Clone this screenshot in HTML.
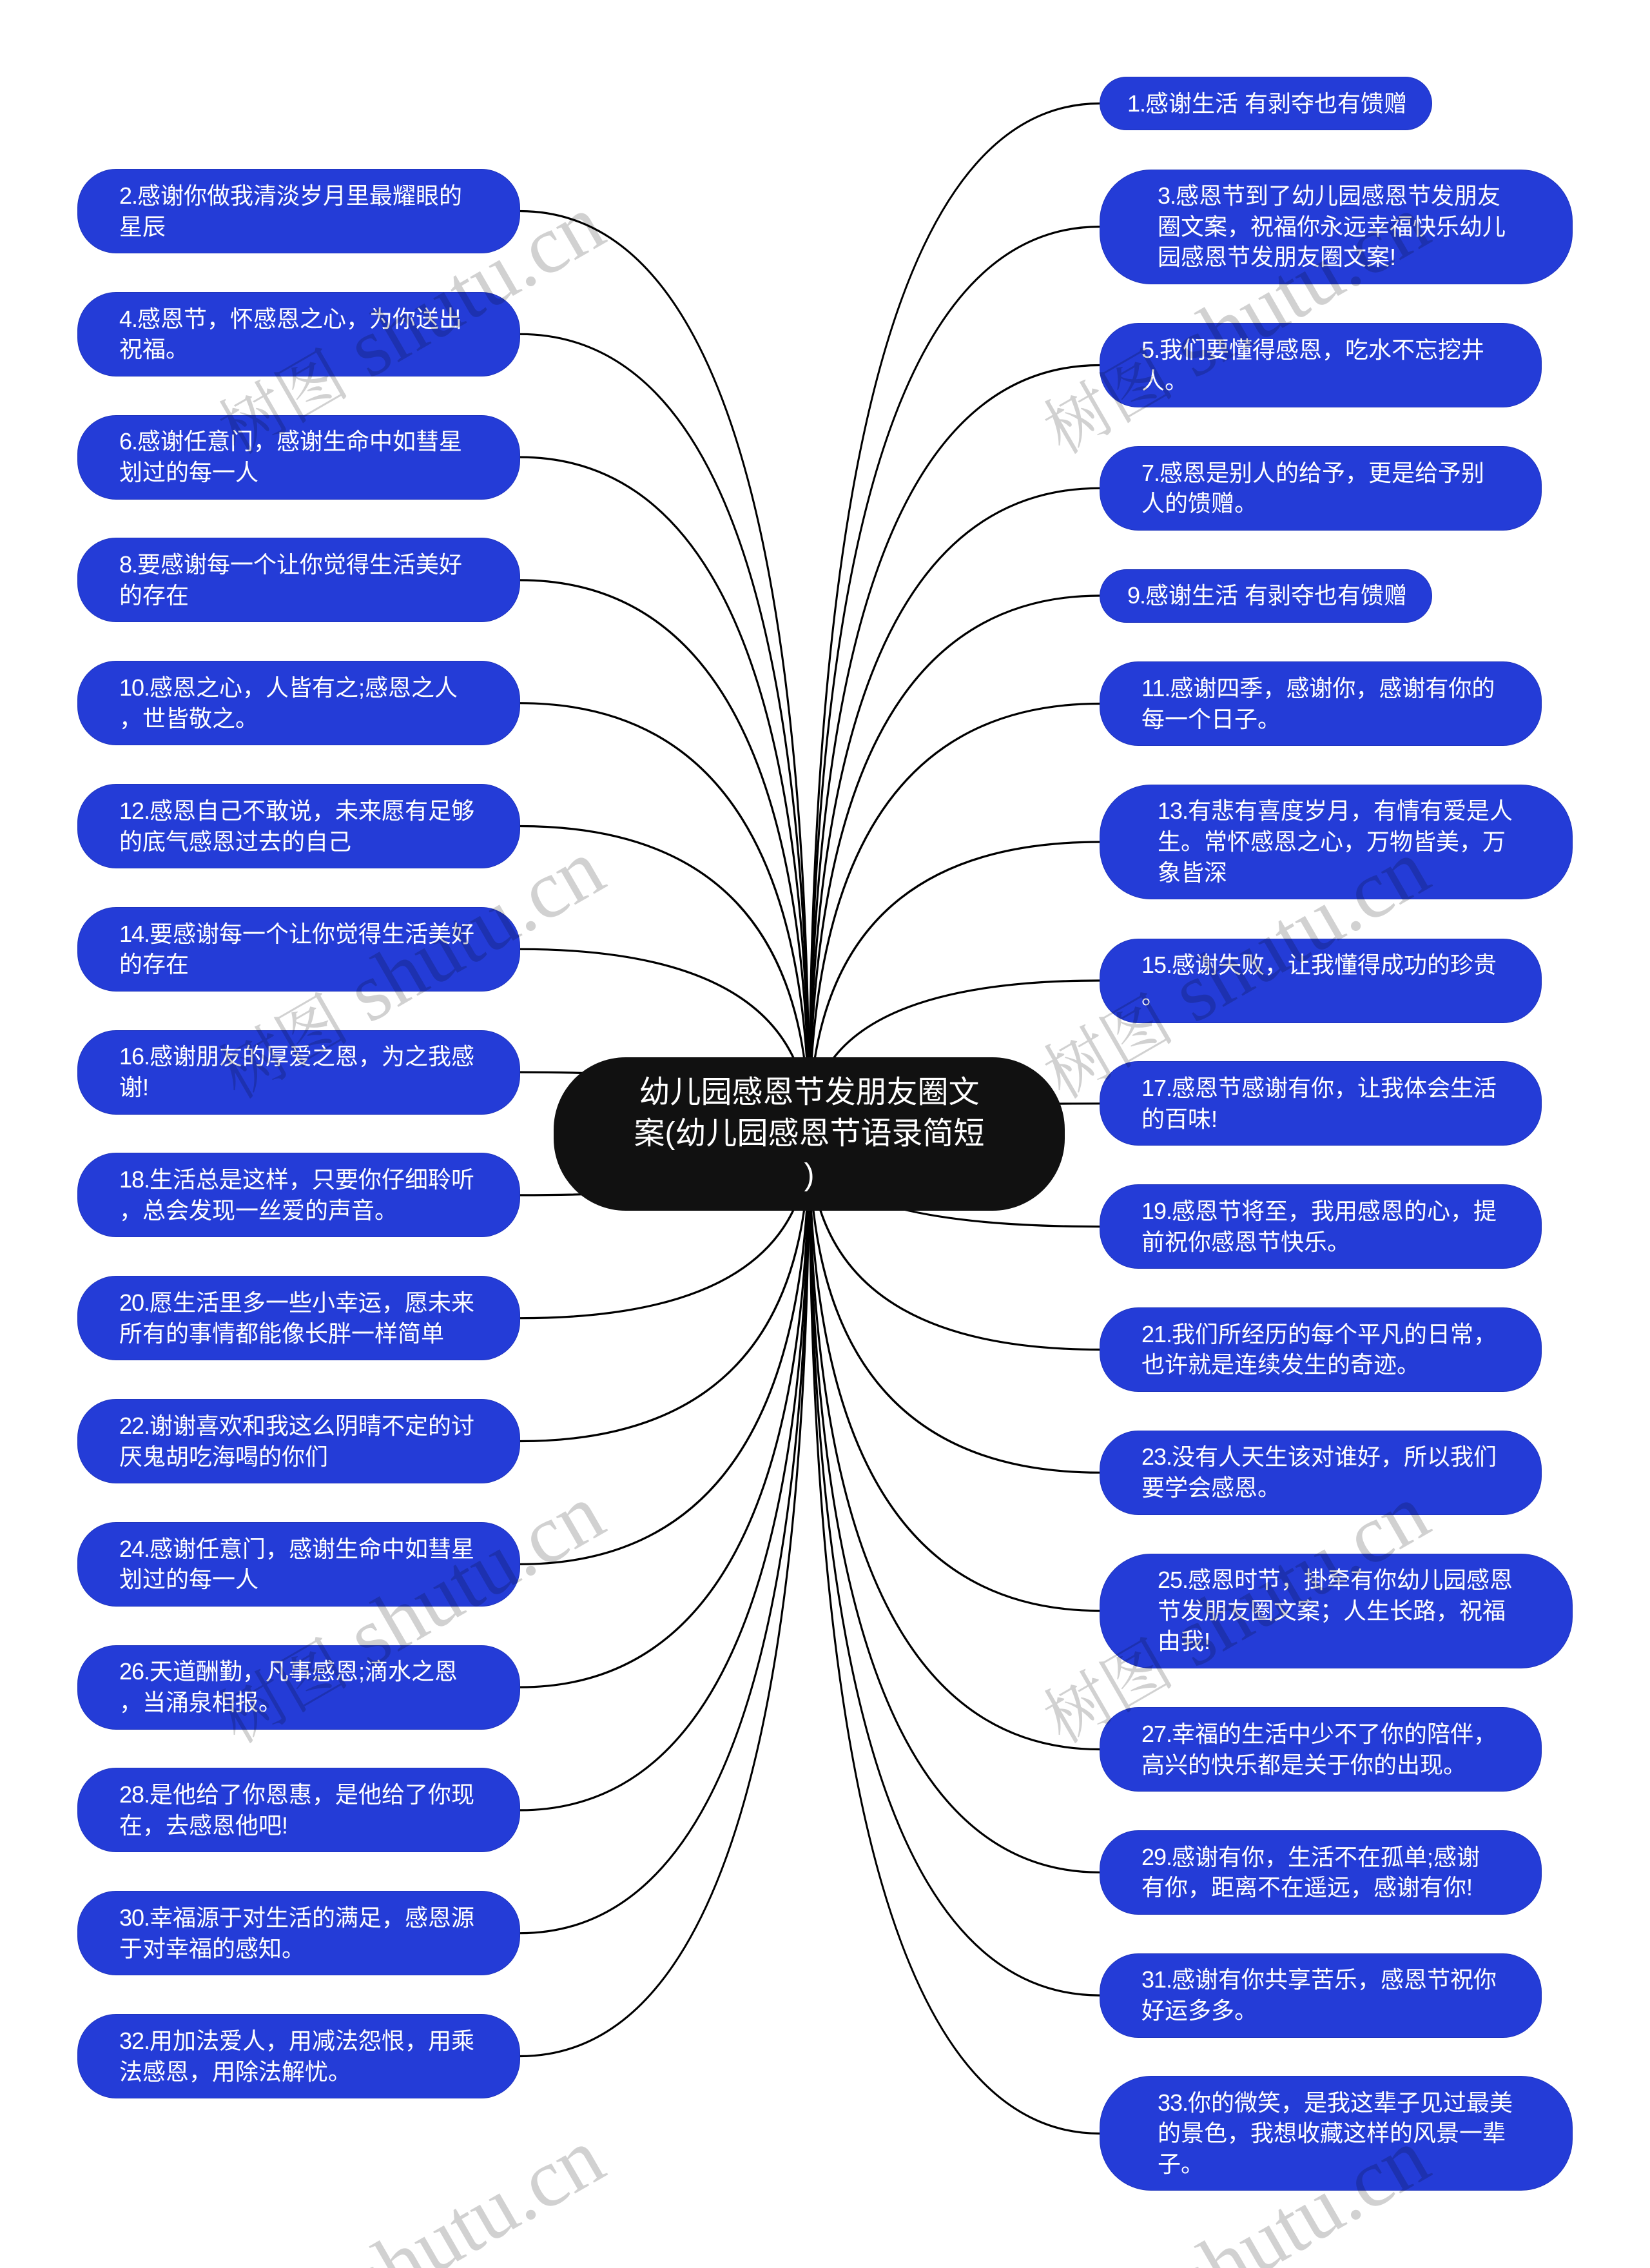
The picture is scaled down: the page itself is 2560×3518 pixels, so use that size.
<!DOCTYPE html>
<html lang="zh-CN">
<head>
<meta charset="utf-8">
<title>幼儿园感恩节发朋友圈文案</title>
<style>
html,body{margin:0;padding:0;background:#fff;width:2560px;height:3518px;overflow:hidden;}
#c{position:relative;width:2560px;height:3518px;overflow:hidden;background:#fff;font-family:"Liberation Sans","Noto Sans CJK SC",sans-serif;color:#fff;}
svg{position:absolute;left:0;top:0;overflow:hidden;}
.n{position:absolute;box-sizing:border-box;background:#243cd7;border:1px solid #1f34bd;font-size:36px;line-height:47.8px;white-space:nowrap;display:flex;align-items:center;}
.n i{font-style:normal;letter-spacing:-1px;}
.l{left:120px;width:687px;height:131px;border-radius:60px;padding-left:64px;}
.r{left:1706px;}
.s{width:516px;height:83px;border-radius:41.5px;padding-left:42px;}
.m{width:686px;height:131px;border-radius:60px;padding-left:64px;}
.t{width:734px;height:178px;border-radius:80px;padding-left:89px;}
#root{position:absolute;left:859px;top:1640px;width:793px;height:238px;border-radius:112px;background:#111;font-size:48px;line-height:64px;text-align:center;white-space:nowrap;display:flex;align-items:center;justify-content:center;}
</style>
</head>
<body>
<div id="c">
<svg width="2560" height="3518" viewBox="0 0 2560 3518" fill="none" stroke="#000" stroke-width="3.2">
<path d="M807 327.5Q1255.5 327.5 1255.5 1759"/>
<path d="M807 518.3Q1255.5 518.3 1255.5 1759"/>
<path d="M807 709.1Q1255.5 709.1 1255.5 1759"/>
<path d="M807 899.9Q1255.5 899.9 1255.5 1759"/>
<path d="M807 1090.7Q1255.5 1090.7 1255.5 1759"/>
<path d="M807 1281.5Q1255.5 1281.5 1255.5 1759"/>
<path d="M807 1472.3Q1255.5 1472.3 1255.5 1759"/>
<path d="M807 1663.1Q1255.5 1663.1 1255.5 1759"/>
<path d="M807 1853.9Q1255.5 1853.9 1255.5 1759"/>
<path d="M807 2044.7Q1255.5 2044.7 1255.5 1759"/>
<path d="M807 2235.5Q1255.5 2235.5 1255.5 1759"/>
<path d="M807 2426.3Q1255.5 2426.3 1255.5 1759"/>
<path d="M807 2617.1Q1255.5 2617.1 1255.5 1759"/>
<path d="M807 2807.9Q1255.5 2807.9 1255.5 1759"/>
<path d="M807 2998.7Q1255.5 2998.7 1255.5 1759"/>
<path d="M807 3189.5Q1255.5 3189.5 1255.5 1759"/>
<path d="M1706 160.5Q1255.5 160.5 1255.5 1759"/>
<path d="M1706 351.6Q1255.5 351.6 1255.5 1759"/>
<path d="M1706 566.5Q1255.5 566.5 1255.5 1759"/>
<path d="M1706 757.3Q1255.5 757.3 1255.5 1759"/>
<path d="M1706 924Q1255.5 924 1255.5 1759"/>
<path d="M1706 1091.5Q1255.5 1091.5 1255.5 1759"/>
<path d="M1706 1306Q1255.5 1306 1255.5 1759"/>
<path d="M1706 1521Q1255.5 1521 1255.5 1759"/>
<path d="M1706 1711.8Q1255.5 1711.8 1255.5 1759"/>
<path d="M1706 1902.6Q1255.5 1902.6 1255.5 1759"/>
<path d="M1706 2093.4Q1255.5 2093.4 1255.5 1759"/>
<path d="M1706 2284.2Q1255.5 2284.2 1255.5 1759"/>
<path d="M1706 2498.5Q1255.5 2498.5 1255.5 1759"/>
<path d="M1706 2713.5Q1255.5 2713.5 1255.5 1759"/>
<path d="M1706 2904.3Q1255.5 2904.3 1255.5 1759"/>
<path d="M1706 3095.1Q1255.5 3095.1 1255.5 1759"/>
<path d="M1706 3309.4Q1255.5 3309.4 1255.5 1759"/>
</svg>

<div id="root"><div>幼儿园感恩节发朋友圈文<br>案(幼儿园感恩节语录简短<br>)</div></div>

<div class="n l" style="top:262px"><div><i>2.</i>感谢你做我清淡岁月里最耀眼的<br>星辰</div></div>
<div class="n l" style="top:452.8px"><div><i>4.</i>感恩节，怀感恩之心，为你送出<br>祝福。</div></div>
<div class="n l" style="top:643.6px"><div><i>6.</i>感谢任意门，感谢生命中如彗星<br>划过的每一人</div></div>
<div class="n l" style="top:834.4px"><div><i>8.</i>要感谢每一个让你觉得生活美好<br>的存在</div></div>
<div class="n l" style="top:1025.2px"><div><i>10.</i>感恩之心，人皆有之;感恩之人<br>，世皆敬之。</div></div>
<div class="n l" style="top:1216px"><div><i>12.</i>感恩自己不敢说，未来愿有足够<br>的底气感恩过去的自己</div></div>
<div class="n l" style="top:1406.8px"><div><i>14.</i>要感谢每一个让你觉得生活美好<br>的存在</div></div>
<div class="n l" style="top:1597.6px"><div><i>16.</i>感谢朋友的厚爱之恩，为之我感<br>谢!</div></div>
<div class="n l" style="top:1788.4px"><div><i>18.</i>生活总是这样，只要你仔细聆听<br>，总会发现一丝爱的声音。</div></div>
<div class="n l" style="top:1979.2px"><div><i>20.</i>愿生活里多一些小幸运，愿未来<br>所有的事情都能像长胖一样简单</div></div>
<div class="n l" style="top:2170px"><div><i>22.</i>谢谢喜欢和我这么阴晴不定的讨<br>厌鬼胡吃海喝的你们</div></div>
<div class="n l" style="top:2360.8px"><div><i>24.</i>感谢任意门，感谢生命中如彗星<br>划过的每一人</div></div>
<div class="n l" style="top:2551.6px"><div><i>26.</i>天道酬勤，凡事感恩;滴水之恩<br>，当涌泉相报。</div></div>
<div class="n l" style="top:2742.4px"><div><i>28.</i>是他给了你恩惠，是他给了你现<br>在，去感恩他吧!</div></div>
<div class="n l" style="top:2933.2px"><div><i>30.</i>幸福源于对生活的满足，感恩源<br>于对幸福的感知。</div></div>
<div class="n l" style="top:3124px"><div><i>32.</i>用加法爱人，用减法怨恨，用乘<br>法感恩，用除法解忧。</div></div>

<div class="n r s" style="top:119px"><div><i>1.</i>感谢生活 有剥夺也有馈赠</div></div>
<div class="n r t" style="top:262.6px"><div><i>3.</i>感恩节到了幼儿园感恩节发朋友<br>圈文案，祝福你永远幸福快乐幼儿<br>园感恩节发朋友圈文案!</div></div>
<div class="n r m" style="top:501px"><div><i>5.</i>我们要懂得感恩，吃水不忘挖井<br>人。</div></div>
<div class="n r m" style="top:691.8px"><div><i>7.</i>感恩是别人的给予，更是给予别<br>人的馈赠。</div></div>
<div class="n r s" style="top:882.5px"><div><i>9.</i>感谢生活 有剥夺也有馈赠</div></div>
<div class="n r m" style="top:1026px"><div><i>11.</i>感谢四季，感谢你，感谢有你的<br>每一个日子。</div></div>
<div class="n r t" style="top:1217px"><div><i>13.</i>有悲有喜度岁月，有情有爱是人<br>生。常怀感恩之心，万物皆美，万<br>象皆深</div></div>
<div class="n r m" style="top:1455.5px"><div><i>15.</i>感谢失败，让我懂得成功的珍贵<br>。</div></div>
<div class="n r m" style="top:1646.3px"><div><i>17.</i>感恩节感谢有你，让我体会生活<br>的百味!</div></div>
<div class="n r m" style="top:1837.1px"><div><i>19.</i>感恩节将至，我用感恩的心，提<br>前祝你感恩节快乐。</div></div>
<div class="n r m" style="top:2027.9px"><div><i>21.</i>我们所经历的每个平凡的日常，<br>也许就是连续发生的奇迹。</div></div>
<div class="n r m" style="top:2218.7px"><div><i>23.</i>没有人天生该对谁好，所以我们<br>要学会感恩。</div></div>
<div class="n r t" style="top:2409.5px"><div><i>25.</i>感恩时节，掛牵有你幼儿园感恩<br>节发朋友圈文案；人生长路，祝福<br>由我!</div></div>
<div class="n r m" style="top:2648px"><div><i>27.</i>幸福的生活中少不了你的陪伴，<br>高兴的快乐都是关于你的出现。</div></div>
<div class="n r m" style="top:2838.8px"><div><i>29.</i>感谢有你，生活不在孤单;感谢<br>有你，距离不在遥远，感谢有你!</div></div>
<div class="n r m" style="top:3029.6px"><div><i>31.</i>感谢有你共享苦乐，感恩节祝你<br>好运多多。</div></div>
<div class="n r t" style="top:3220.4px"><div><i>33.</i>你的微笑，是我这辈子见过最美<br>的景色，我想收藏这样的风景一辈<br>子。</div></div>

<svg width="2560" height="3518" viewBox="0 0 2560 3518" style="pointer-events:none" fill="rgba(0,0,0,.18)" font-family="'Liberation Serif','Noto Serif CJK SC',serif" font-size="128" text-anchor="end">
<text x="945" y="373" transform="rotate(-30 945 373)"><tspan font-size="102">树图</tspan> shutu.cn</text>
<text x="2225" y="373" transform="rotate(-30 2225 373)"><tspan font-size="102">树图</tspan> shutu.cn</text>
<text x="945" y="1373" transform="rotate(-30 945 1373)"><tspan font-size="102">树图</tspan> shutu.cn</text>
<text x="2225" y="1373" transform="rotate(-30 2225 1373)"><tspan font-size="102">树图</tspan> shutu.cn</text>
<text x="945" y="2373" transform="rotate(-30 945 2373)"><tspan font-size="102">树图</tspan> shutu.cn</text>
<text x="2225" y="2373" transform="rotate(-30 2225 2373)"><tspan font-size="102">树图</tspan> shutu.cn</text>
<text x="945" y="3372" transform="rotate(-30 945 3372)"><tspan font-size="102">树图</tspan> shutu.cn</text>
<text x="2225" y="3372" transform="rotate(-30 2225 3372)"><tspan font-size="102">树图</tspan> shutu.cn</text>
</svg>
</div>
</body>
</html>
